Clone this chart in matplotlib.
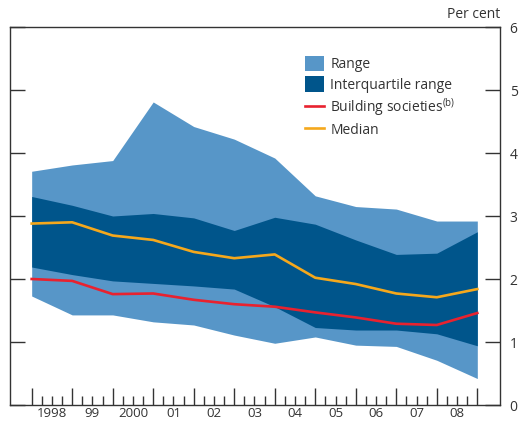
import matplotlib.pyplot as plt
from matplotlib.ticker import FixedLocator, FixedFormatter, NullFormatter

plt.rcParams['font.family'] = ['Open Sans', 'DejaVu Sans']
plt.rcParams['mathtext.default'] = 'regular'

# Year-end observations, 1997 to 2008 (plotted at year boundaries)
years = [1998, 1999, 2000, 2001, 2002, 2003, 2004, 2005, 2006, 2007, 2008, 2009]
range_max = [3.71, 3.81, 3.88, 4.81, 4.42, 4.22, 3.92, 3.32, 3.15, 3.11, 2.92, 2.92]
quart_upper = [3.31, 3.17, 3.00, 3.04, 2.97, 2.77, 2.98, 2.87, 2.62, 2.39, 2.41, 2.75]
median = [2.88, 2.90, 2.69, 2.62, 2.43, 2.33, 2.39, 2.02, 1.92, 1.77, 1.71, 1.84]
building_soc = [2.00, 1.97, 1.76, 1.77, 1.67, 1.60, 1.56, 1.47, 1.39, 1.29, 1.27, 1.46]
quart_lower = [2.19, 2.07, 1.97, 1.93, 1.89, 1.84, 1.56, 1.23, 1.19, 1.19, 1.13, 0.94]
range_min = [1.73, 1.43, 1.43, 1.32, 1.27, 1.11, 0.98, 1.08, 0.95, 0.93, 0.71, 0.42]

year_labels = ['1998', '99', '2000', '01', '02', '03', '04', '05', '06', '07', '08']

light_blue = '#5796C8'
dark_blue = '#00558B'
red = '#E8222F'
gold = '#F5A81C'
grey = '#333333'

fig = plt.figure(figsize=(5.22, 4.23), dpi=100)
ax = fig.add_axes([10 / 522, 18 / 423, 490 / 522, 378 / 423])

ax.fill_between(years, range_min, range_max, color=light_blue, lw=0, label='Range')
ax.fill_between(years, quart_lower, quart_upper, color=dark_blue, lw=0,
                label='Interquartile range')
ax.plot(years, building_soc, color=red, lw=1.9, label='Building societies$^{(b)}$')
ax.plot(years, median, color=gold, lw=1.9, label='Median')

ax.set_xlim(1997.465, 2009.56)
ax.set_ylim(0, 6)

# x axis: year boundaries as long ticks, quarters as short ticks, labels mid-year
ax.xaxis.set_major_locator(FixedLocator(years))
ax.xaxis.set_major_formatter(NullFormatter())
quarters = []
qlabels = []
for i, y in enumerate(years[:-1]):
    for q in (0.25, 0.5, 0.75):
        quarters.append(y + q)
        qlabels.append(year_labels[i] if q == 0.5 else '')
ax.xaxis.set_minor_locator(FixedLocator(quarters))
ax.xaxis.set_minor_formatter(FixedFormatter(qlabels))
ax.tick_params(axis='x', which='major', direction='in', length=12, width=1, color=grey)
ax.tick_params(axis='x', which='minor', direction='in', length=6.5, width=1, color=grey,
               labelsize=9.5, labelcolor=grey, pad=1.5)

# y axis: ticks on both sides, labels on the right only
ax.set_yticks([0, 1, 2, 3, 4, 5, 6])
ax.tick_params(axis='y', direction='in', length=10.5, width=1, color=grey,
               left=True, right=True, labelleft=False, labelright=True,
               labelsize=10, labelcolor=grey, pad=7)

for s in ax.spines.values():
    s.set_color(grey)
    s.set_linewidth(1)

fig.text(500 / 522, 1 - 14 / 423, 'Per cent', ha='right', va='center',
         fontsize=10, color=grey)

leg = ax.legend(loc='upper left', bbox_to_anchor=(0.602, 0.924), frameon=False,
                fontsize=10, handlelength=1.37, handleheight=1.37, handletextpad=0.45,
                labelspacing=0.27, borderaxespad=0, borderpad=0)
for t in leg.get_texts():
    t.set_color(grey)

fig.savefig('out.png', dpi=100)
